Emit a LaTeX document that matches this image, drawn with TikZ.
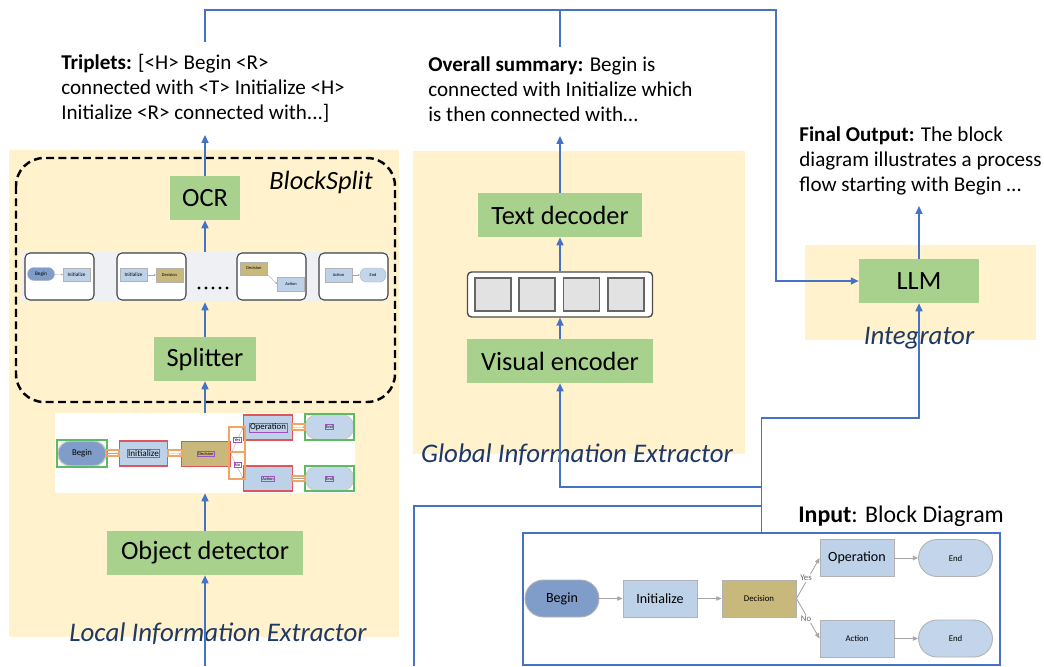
\documentclass[tikz,border=0pt]{standalone}
\usepackage{fontspec}
\setmainfont{Carlito}
\usetikzlibrary{arrows.meta}

\definecolor{panelyellow}{HTML}{FFF2CC}
\definecolor{boxgreen}{HTML}{A9D18E}
\definecolor{linkblue}{HTML}{4472C4}
\definecolor{labelnavy}{HTML}{1F3864}
\definecolor{beginblue}{HTML}{7F9DC8}
\definecolor{stepblue}{HTML}{BDD1E8}
\definecolor{endblue}{HTML}{C3D5EA}
\definecolor{decisionkhaki}{HTML}{C8B87C}
\definecolor{tokengray}{HTML}{E2E2E2}
\definecolor{stripgray}{HTML}{EEF0F3}
\definecolor{detred}{HTML}{E0555A}
\definecolor{detgreen}{HTML}{5DBB63}
\definecolor{detorange}{HTML}{F4A460}
\definecolor{detpurple}{HTML}{A050C0}

\tikzset{
  block/.style={fill=boxgreen, minimum height=0.88cm, inner sep=0pt, font=\fontsize{15}{18}\selectfont},
  note/.style={anchor=base west, align=left, inner sep=0pt, font=\fontsize{12}{14.2}\selectfont},
  stagename/.style={text=labelnavy, inner sep=0pt, font=\fontsize{15.3}{18}\selectfont\itshape},
  wire/.style={draw=linkblue, line width=0.8pt},
  flow/.style={wire, -{Triangle[length=4.5pt, width=4pt]}},
  thumbframe/.style={draw=black!75, fill=white, line width=0.6pt, rounded corners=0.1cm},
  mini/.style={draw=gray!60, line width=0.2pt, fill=stepblue, minimum width=0.54cm, minimum height=0.26cm, inner sep=0pt, font=\fontsize{2.5}{3}\selectfont},
  minipill/.style={mini, rounded corners=0.13cm},
  minilink/.style={draw=gray!70, line width=0.2pt, -{Triangle[length=1pt, width=1pt]}},
  detbox/.style={draw=detred, line width=0.7pt, fill=stepblue, minimum width=0.97cm, minimum height=0.5cm, inner sep=0pt, font=\fontsize{2.5}{3}\selectfont},
  detpill/.style={detbox, draw=gray!40, rounded corners=0.25cm},
  tag/.style={draw=detpurple, line width=0.4pt, inner sep=0.5pt, font=\fontsize{2.5}{3}\selectfont},
  flowstep/.style={draw=gray!60, line width=0.5pt, fill=stepblue, minimum width=1.48cm, minimum height=0.74cm, inner sep=0pt, font=\fontsize{8}{9}\selectfont},
  flowpill/.style={flowstep, fill=endblue, rounded corners=0.37cm},
  flowlink/.style={draw=gray!70, line width=0.5pt, -{Triangle[length=3pt, width=2.5pt]}},
  tiny/.style={font=\fontsize{5}{6}\selectfont}
}

\begin{document}
\begin{tikzpicture}[x=0.02cm, y=-0.02cm]
\useasboundingbox (0,0) rectangle (1044,666);

% panels
\fill[panelyellow] (9,150) rectangle (399,637);
\fill[panelyellow] (413,151) rectangle (745,454);
\fill[panelyellow] (805,245) rectangle (1036,340);

% BlockSplit group
\draw[black, line width=1.4pt, dash pattern=on 4.5pt off 2.5pt, rounded corners=0.56cm] (16,158) rectangle (395,402);
\node[inner sep=0pt, font=\fontsize{15}{18}\selectfont\itshape] (blocksplit) at (321,182) {BlockSplit};

% local information extractor
\node[block, minimum width=1.4cm] (ocr) at (205,198) {OCR};
\node[fill=stripgray, minimum width=7.32cm, minimum height=1cm, inner sep=0pt] (strip) at (205,277) {};
\foreach \fx in {25,117,237,319}
  \draw[thumbframe] (\fx,253) rectangle ++(69,47);
\node[minipill, fill=beginblue, font=\fontsize{3}{3}\selectfont] (t1a) at (41,274) {Begin};
\node[mini, font=\fontsize{3}{3}\selectfont] (t1b) at (76.5,275) {Initialize};
\node[mini, font=\fontsize{3}{3}\selectfont] (t2a) at (133.5,275) {Initialize};
\node[mini, fill=decisionkhaki, minimum height=0.28cm] (t2b) at (169.5,275) {Decision};
\node[mini, fill=decisionkhaki] (t3a) at (254,268.5) {Decision};
\node[mini, minimum height=0.28cm] (t3b) at (291,284) {Action};
\node[mini, minimum height=0.28cm] (t4a) at (338.5,275) {Action};
\node[minipill, fill=endblue, minimum height=0.28cm, minimum width=0.52cm] (t4b) at (373,275) {End};
\draw[minilink] (t1a) -- (t1b);
\draw[minilink] (t2a) -- (t2b);
\draw[minilink] (t3a.south east) -- (t3b.west);
\draw[minilink] (t4a) -- (t4b);
\foreach \dx in {199,206,213,220,227}
  \fill (\dx,288) circle (1.6);
\node[block, minimum width=2.06cm] (splitter) at (205,359) {Splitter};

% detected diagram
\node[fill=white, minimum width=6cm, minimum height=1.6cm, inner sep=0pt] (detected) at (205,453) {};
\node[detpill, fill=beginblue, font=\fontsize{5}{6}\selectfont] (dbegin) at (82,453.5) {Begin};
\draw[detgreen, line width=0.7pt] (57,440) rectangle (107,467);
\node[detbox] (dinit) at (143.5,453.5) {};
\node[detbox, fill=decisionkhaki] (ddecision) at (206,454) {};
\node[detbox] (doperation) at (268,427.5) {};
\node[detpill, fill=endblue] (dendtop) at (329.5,427) {};
\draw[detgreen, line width=0.7pt] (305,414) rectangle (354,440);
\node[detbox] (daction) at (268,478.5) {};
\node[detpill, fill=endblue] (dendbottom) at (329.5,478.5) {};
\draw[detgreen, line width=0.7pt] (305,466) rectangle (354,491);
\node[tag, font=\fontsize{5.2}{6}\selectfont] (dinittext) at (dinit) {Initialize};
\node[tag] (ddecisiontext) at (ddecision) {Decision};
\node[tag, font=\fontsize{5}{6}\selectfont] (doperationtext) at (doperation) {Operation};
\node[tag] (dendtoptext) at (dendtop) {End};
\node[tag] (dactiontext) at (daction) {Action};
\node[tag] (dendbottomtext) at (dendbottom) {End};
\draw[minilink] (dbegin) -- (dinit);
\draw[minilink] (dinit) -- (ddecision);
\draw[minilink] (ddecision.east) -- (doperation.west);
\draw[minilink] (ddecision.east) -- (daction.west);
\draw[minilink] (doperation) -- (dendtop);
\draw[minilink] (daction) -- (dendbottom);
\draw[detorange, line width=0.6pt] (106,450) rectangle (119,456);
\draw[detorange, line width=0.6pt] (168,450) rectangle (182,456);
\draw[detorange, line width=0.6pt] (229,427) rectangle (245,479);
\draw[detorange, line width=0.6pt] (229,452) -- (245,452);
\draw[detorange, line width=0.6pt] (292,424) rectangle (305,430);
\draw[detorange, line width=0.6pt] (292,476) rectangle (305,481);
\node[tag, fill=white] (dyes) at (237.5,440) {Yes};
\node[tag, fill=white] (dno) at (237.5,465) {No};

\node[block, minimum width=3.94cm] (objdet) at (205,553) {Object detector};

% global information extractor
\node[block, minimum width=3.3cm] (tdec) at (560,215) {Text decoder};
\node[draw=black!70, line width=0.8pt, fill=white, rounded corners=0.08cm, minimum width=3.7cm, minimum height=0.9cm, inner sep=0pt] (tokens) at (560,294.5) {};
\foreach \tx in {493,537,581.5,626}
  \draw[draw=black!60, line width=0.8pt, fill=tokengray] (\tx-18,278) rectangle (\tx+18,311);
\node[block, minimum width=3.72cm] (venc) at (560,361) {Visual encoder};

% integrator
\node[block, minimum width=2.4cm] (llm) at (919,281) {LLM};

% texts (base sits on the last line)
\node[note] (triplets) at (61,119) {\textbf{Triplets:} [<H> Begin <R>\\connected with <T> Initialize <H>\\Initialize <R> connected with...]};
\node[note] (summary) at (428,121) {\textbf{Overall summary:} Begin is\\connected with Initialize which\\is then connected with…};
\node[note] (final) at (799,191) {\textbf{Final Output:} The block\\diagram illustrates a process\\flow starting with Begin …};
\node[anchor=base west, inner sep=0pt, font=\fontsize{13.6}{16}\selectfont] (inputlabel) at (798,522) {\textbf{Input}: Block Diagram};

\node[stagename] (locallabel) at (218,634) {Local Information Extractor};
\node[stagename] (globallabel) at (577,455) {Global Information Extractor};
\node[stagename] (integlabel) at (919,338) {Integrator};

% input block diagram
\node[draw=linkblue, line width=0.8pt, fill=white, minimum width=9.54cm, minimum height=2.64cm, inner sep=0pt] (input) at (761.5,599) {};
\node[flowpill, fill=beginblue] (begin) at (562,598.5) {Begin};
\node[flowstep] (init) at (660,598.5) {Initialize};
\node[flowstep, fill=decisionkhaki, tiny] (decision) at (759,598.5) {Decision};
\node[flowstep] (operation) at (857,558) {Operation};
\node[flowpill, tiny] (endtop) at (955.5,558) {End};
\node[flowstep, tiny] (action) at (857,638.5) {Action};
\node[flowpill, tiny] (endbottom) at (955.5,638.5) {End};
\draw[flowlink] (begin) -- (init);
\draw[flowlink] (init) -- (decision);
\draw[flowlink] (decision.east) -- (operation.west);
\draw[flowlink] (decision.east) -- (action.west);
\draw[flowlink] (operation) -- (endtop);
\draw[flowlink] (action) -- (endbottom);
\node[tiny, fill=white, inner sep=0.5pt, text=gray!80!black] (yes) at (806,578) {Yes};
\node[tiny, fill=white, inner sep=0.5pt, text=gray!80!black] (no) at (806,619) {No};

% connectors
\coordinate (tripletsin) at (205,135);
\coordinate (tripletsout) at (205,42);
\coordinate (summaryin) at (560,136);
\coordinate (summaryout) at (560,47);
\coordinate (finalin) at (919,206);
\coordinate (topright) at (776,10);
\coordinate (forkllm) at (761.5,418);
\coordinate (forkvenc) at (761.5,487);
\coordinate (forklocal) at (761.5,506);
\coordinate (localdown) at (414,666);
\coordinate (localup) at (205,666);

\draw[flow] (localup) -- (objdet.south);
\draw[flow] (objdet.north) -- (detected.south);
\draw[flow] (detected.north) -- (splitter.south);
\draw[flow] (splitter.north) -- (strip.south);
\draw[flow] (strip.north) -- (ocr.south);
\draw[flow] (ocr.north) -- (tripletsin);
\draw[flow] (venc.north) -- (tokens.south);
\draw[flow] (tokens.north) -- (tdec.south);
\draw[flow] (tdec.north) -- (summaryin);
\draw[flow] (llm.north) -- (finalin);
\draw[flow] (tripletsout) |- (topright) |- (llm.west);
\draw[wire] (summaryout) -- (summaryout |- topright);
\draw[flow] (input.north) -- (forkllm) -| (llm.south);
\draw[flow] (forkvenc) -| (venc.south);
\draw[wire] (forklocal) -| (localdown);
\end{tikzpicture}
\end{document}
